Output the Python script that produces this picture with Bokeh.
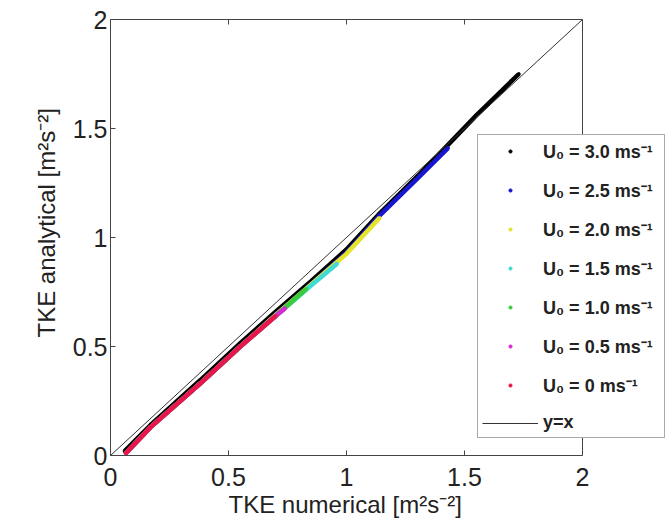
from bokeh.plotting import figure
from bokeh.models import Legend, LegendItem, LinearAxis, FixedTicker, Range1d, Span, Title
from bokeh.embed import file_html
from bokeh.resources import INLINE

# ---- data ----
labels = ["U\u2080 = 3.0 ms\u207b\u00b9", "U\u2080 = 2.5 ms\u207b\u00b9", "U\u2080 = 2.0 ms\u207b\u00b9",
          "U\u2080 = 1.5 ms\u207b\u00b9", "U\u2080 = 1.0 ms\u207b\u00b9", "U\u2080 = 0.5 ms\u207b\u00b9",
          "U\u2080 = 0 ms\u207b\u00b9"]
colors = ["#000000", "#1717cf", "#e4e42c", "#3fdad2", "#3acd3a", "#d62ad6", "#e8174a"]

x_u30 = [0.06, 0.17, 0.38, 0.55, 0.70, 0.85, 1.00, 1.14, 1.30, 1.43, 1.55, 1.73]
y_u30 = [0.02, 0.14, 0.345, 0.515, 0.66, 0.80, 0.945, 1.11, 1.28, 1.425, 1.56, 1.75]
x_u25 = [0.065, 0.17, 0.38, 0.55, 0.70, 0.85, 1.00, 1.14, 1.30, 1.43]
y_u25 = [0.01, 0.13, 0.33, 0.50, 0.645, 0.785, 0.93, 1.10, 1.27, 1.41]
x_u20 = [0.065, 0.17, 0.38, 0.55, 0.70, 0.85, 1.00, 1.14]
y_u20 = [0.01, 0.13, 0.33, 0.50, 0.645, 0.785, 0.925, 1.09]
x_u15 = [0.065, 0.17, 0.38, 0.55, 0.70, 0.85, 0.96]
y_u15 = [0.01, 0.13, 0.33, 0.50, 0.64, 0.78, 0.88]
x_u10 = [0.065, 0.17, 0.38, 0.55, 0.70, 0.83]
y_u10 = [0.01, 0.13, 0.33, 0.50, 0.64, 0.765]
x_u05 = [0.065, 0.17, 0.38, 0.55, 0.70, 0.74]
y_u05 = [0.01, 0.13, 0.33, 0.50, 0.64, 0.675]
x_u00 = [0.065, 0.17, 0.38, 0.55, 0.70]
y_u00 = [0.01, 0.13, 0.33, 0.50, 0.64]

diag_x = [0, 2]
diag_y = [0, 2]

ticks = [0, 0.5, 1, 1.5, 2]
tick_labels = ["0", "0.5", "1", "1.5", "2"]
axis_min, axis_max = 0, 2

series = [(x_u30, y_u30), (x_u25, y_u25), (x_u20, y_u20), (x_u15, y_u15),
          (x_u10, y_u10), (x_u05, y_u05), (x_u00, y_u00)]

FONT = "Liberation Sans"
TXT = "#222222"
AXC = "#444444"

# frame spans wider than the axes box so the legend may stick out on the right
x_extra = (666 - 110) / ((582 - 110) / (axis_max - axis_min))

p = figure(width=670, height=525, output_backend="svg", toolbar_location=None,
           x_range=Range1d(axis_min, axis_min + x_extra), y_range=Range1d(axis_min, axis_max),
           min_border_left=110, min_border_right=4, min_border_top=19, min_border_bottom=70)
p.background_fill_color = "white"
p.border_fill_color = "white"
p.outline_line_color = None
p.xgrid.visible = False
p.ygrid.visible = False

items = []
for (xs, ys), c, lab in zip(series, colors, labels):
    p.line(xs, ys, line_color=c, line_width=4.5)
    r = p.scatter(xs, ys, size=3, color=c)
    items.append(LegendItem(label=lab, renderers=[r]))

rd = p.line(diag_x, diag_y, line_color="#333333", line_width=1)
items.append(LegendItem(label="y=x", renderers=[rd]))

# right edge of the axes box
p.add_layout(Span(location=axis_max, dimension="height", line_color=AXC, line_width=1))

tick_overrides = {t: l for t, l in zip(ticks, tick_labels)}
for ax in (p.xaxis[0], p.yaxis[0]):
    ax.ticker = FixedTicker(ticks=ticks)
    ax.bounds = (axis_min, axis_max)
    ax.major_label_overrides = tick_overrides
    ax.major_tick_in = 5
    ax.major_tick_out = 0
    ax.minor_tick_in = 0
    ax.minor_tick_out = 0
    ax.axis_line_color = AXC
    ax.major_tick_line_color = AXC
    ax.major_label_text_font = FONT
    ax.major_label_text_font_size = "25px"
    ax.major_label_text_color = TXT

p.xaxis[0].major_label_standoff = 12
p.yaxis[0].major_label_standoff = 3

xlabel = Title(text="TKE numerical [m\u00b2s\u207b\u00b2]", align="left", offset=118,
               text_font=FONT, text_font_size="24px", text_font_style="normal",
               text_color=TXT, standoff=0)
p.add_layout(xlabel, "below")

ylabel = Title(text="TKE analytical [m\u00b2s\u207b\u00b2]", align="left", offset=118,
               text_font=FONT, text_font_size="24px", text_font_style="normal",
               text_color=TXT, standoff=20)
p.add_layout(ylabel, "left")

top = LinearAxis(ticker=FixedTicker(ticks=ticks), bounds=(axis_min, axis_max))
top.major_label_overrides = {t: "" for t in ticks}
top.major_label_standoff = 0
top.major_tick_in = 5
top.major_tick_out = 0
top.minor_tick_in = 0
top.minor_tick_out = 0
top.axis_line_color = AXC
top.major_tick_line_color = AXC
p.add_layout(top, "above")

legend = Legend(items=items, location=(367, 17))
legend.padding = 4
legend.spacing = 15
legend.label_height = 20
legend.label_width = 117
legend.glyph_height = 8
legend.glyph_width = 56
legend.label_standoff = 5
legend.label_text_font = FONT
legend.label_text_font_size = "18px"
legend.label_text_font_style = "bold"
legend.label_text_color = TXT
legend.border_line_color = "#555555"
legend.border_line_width = 1
legend.background_fill_color = "white"
legend.background_fill_alpha = 1
legend.margin = 0
p.add_layout(legend, "center")

open("out.html", "w").write(file_html(p, INLINE))
